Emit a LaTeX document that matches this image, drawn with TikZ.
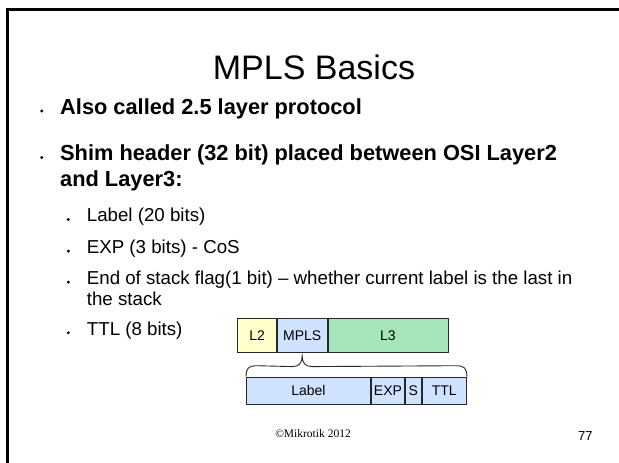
\documentclass[tikz,border=0pt]{standalone}
\usepackage{fontspec}
\setmainfont{Liberation Sans}
\newfontfamily\footfont{Liberation Serif}
\usetikzlibrary{calc}
\definecolor{fieldyellow}{RGB}{255,255,204}
\definecolor{fieldblue}{RGB}{207,226,255}
\definecolor{fieldgreen}{RGB}{166,230,186}
\definecolor{edgegray}{RGB}{40,40,40}
\begin{document}
\begin{tikzpicture}[x=1pt,y=-1pt,
  slidetitle/.style={anchor=base,inner sep=0pt,font=\fontsize{34}{40}\selectfont},
  lvlone/.style={anchor=base west,inner sep=0pt,font=\bfseries\fontsize{21.8}{26}\selectfont},
  lvltwo/.style={anchor=base west,inner sep=0pt,font=\fontsize{18.7}{21}\selectfont},
  bulletdot/.style={circle,fill=black,draw=none,inner sep=0pt,minimum size=3.2pt},
  field/.style={draw=edgegray,line width=0.9pt,inner sep=0pt,anchor=north west,
    font=\fontsize{14}{16}\selectfont,text=black},
  upper/.style={field,minimum height=34pt},
  lower/.style={field,minimum height=27.6pt,fill=fieldblue},
  bracestroke/.style={draw=edgegray,line width=0.9pt}
]
\useasboundingbox (0,0) rectangle (619,463);

% slide frame
\draw[line width=3pt] (7.5,463) -- (7.5,9.5) -- (619,9.5);

% title
\node[slidetitle] (title) at (314,79) {MPLS Basics};

% first-level bullets
\node[bulletdot] (b1) at (41.7,111) {};
\node[lvlone] (t1) at (60,114) {Also called 2.5 layer protocol};
\node[bulletdot] (b2) at (41.7,157.5) {};
\node[lvlone] (t2) at (60,160.5) {Shim header (32 bit) placed between OSI Layer2};
\node[lvlone] (t2b) at (60,186.5) {and Layer3:};

% second-level bullets
\node[bulletdot] (c1) at (68.3,219.5) {};
\node[lvltwo] (s1) at (86.7,221.7) {Label (20 bits)};
\node[bulletdot] (c2) at (68.3,251.1) {};
\node[lvltwo] (s2) at (86.7,253.3) {EXP (3 bits) - CoS};
\node[bulletdot] (c3) at (68.3,282.1) {};
\node[lvltwo] (s3) at (86.7,284.3) {End of stack flag(1 bit) – whether current label is the last in};
\node[lvltwo] (s3b) at (86.7,305) {the stack};
\node[bulletdot] (c4) at (68.3,332.8) {};
\node[lvltwo] (s4) at (86.7,335) {TTL (8 bits)};

% packet: L2 | MPLS | L3
\node[upper,fill=fieldyellow,minimum width=38.7pt] (l2) at (237.3,318.3) {L2};
\node[upper,fill=fieldblue,minimum width=49.7pt] (mpls) at (l2.north east) {MPLS};
\node[upper,fill=fieldgreen,minimum width=120pt] (l3) at (mpls.north east) {L3};

% shim header fields
\node[lower,minimum width=124pt] (lab) at (246,376.7) {Label};
\node[lower,minimum width=33.3pt] (exp) at (lab.north east) {EXP};
\node[lower,minimum width=15.7pt] (sbit) at (exp.north east) {S};
\node[lower,minimum width=44.3pt] (ttl) at (sbit.north east) {TTL};

% brace from the MPLS field down to the expanded header
\coordinate (tip) at ($(mpls.south)+(0,2.7)$);
\draw[bracestroke]
  (lab.north west)
    .. controls ($(lab.north west)+(0,-8.5)$) and ($(lab.north west)+(3,-11)$) .. ($(lab.north west)+(10,-11)$)
    -- ($(tip)+(-10,10.7)$)
    .. controls ($(tip)+(-3,10.7)$) and ($(tip)+(0,7)$) .. (tip)
    .. controls ($(tip)+(0,7)$) and ($(tip)+(3,10.7)$) .. ($(tip)+(10,10.7)$)
    -- ($(ttl.north east)+(-10,-11)$)
    .. controls ($(ttl.north east)+(-3,-11)$) and ($(ttl.north east)+(0,-8.5)$) .. (ttl.north east);

% footer
\node[anchor=base,inner sep=0pt,font=\footfont\fontsize{11.5}{13}\selectfont] (copy) at (313,437) {©Mikrotik 2012};
\node[anchor=base west,inner sep=0pt,font=\fontsize{13}{15}\selectfont] (pagenum) at (578,440) {77};
\end{tikzpicture}
\end{document}
